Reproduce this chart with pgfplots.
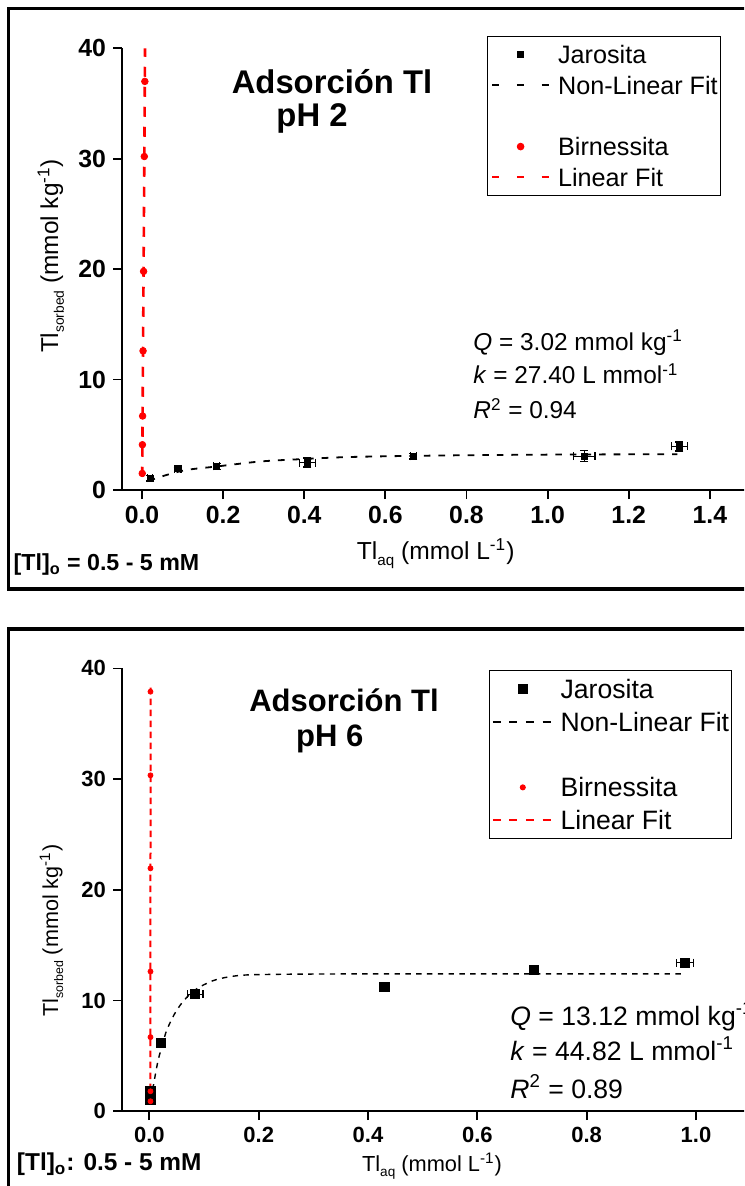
\documentclass[border=0pt]{standalone}
\usepackage{fontspec}
\setmainfont{Liberation Sans}
\usepackage{pgfplots}
\pgfplotsset{compat=1.18}

% small lowered index, as used in the axis titles
\newcommand\lowidx[2]{\raisebox{-0.45ex}{\fontsize{#1}{#1}\selectfont #2}}

% shared look of both isotherm panels
\pgfplotsset{
  panel/.style={
    scale only axis,
    axis lines=left,
    axis line style={-, line width=0.9pt},
    tick style={line width=0.9pt, black},
    tick align=outside,
    major tick length=4.5pt,
    minor tick num=0,
    clip=false,
    ymin=0, ymax=40,
    ytick={0,10,20,30,40},
    yticklabels={0,10,20,30,40},
    /pgf/number format/assume math mode=true,
    legend cell align=left,
  },
  % legend sample: single mark at #1, cell width #2
  markleg/.style 2 args={legend image code/.code={%
      \draw[##1, only marks] plot coordinates {(#1,0pt)};
      \path[draw=none, fill=none] (0pt,0pt) -- (#2,0pt);}},
  % legend sample: line of length #1, dashes #2/#3, cell width #4, width #5
  lineleg/.style n args={5}{legend image code/.code={%
      \draw[##1, line width=#5, dash pattern=on #2 off #3] (0pt,0pt) -- (#1,0pt);
      \path[draw=none, fill=none] (0pt,0pt) -- (#4,0pt);}},
}

\begin{document}
\begin{tikzpicture}
\useasboundingbox (0pt,0pt) rectangle (372pt,-593pt);
\clip (0pt,0pt) rectangle (372pt,-593pt);

% ---------------- pH 2 ----------------
\draw[line width=1.75pt] (4.25pt,-4.2pt) rectangle (390pt,-294.5pt);

\begin{axis}[panel,
  at={(61pt,-245pt)}, anchor=south west,
  width=314.2pt, height=220.85pt,
  xmin=-0.0493, xmax=1.5,
  xtick={0,0.2,0.4,0.6,0.8,1.0,1.2,1.4},
  xticklabels={0.0,0.2,0.4,0.6,0.8,1.0,1.2,1.4},
  tick label style={font=\fontsize{12.4}{14}\selectfont\bfseries},
  legend style={at={(0.5813,1.0279)}, anchor=north west, draw=black,
    line width=0.5pt, fill=white, inner xsep=1.5pt, inner ysep=1.5pt,
    row sep=0pt, font=\fontsize{12.6}{14}\selectfont,
    nodes={inner sep=0pt, text height=12.15pt, text depth=3.15pt}},
]
% Jarosita
\addplot[black, only marks, mark=square*, mark size=1.5pt,
  markleg={14.25pt}{33pt},
  error bars/.cd, x dir=both, x explicit, y dir=both, y explicit,
  error bar style={line width=0.6pt},
  error mark options={rotate=90, mark size=2pt, line width=0.6pt}]
coordinates {
  (0.020,1.07) +- (0.006,0.25)
  (0.088,1.92) +- (0.008,0.15)
  (0.184,2.13) +- (0.008,0.25)
  (0.408,2.49) +- (0.020,0.40)
  (0.669,3.05) +- (0.008,0.25)
  (1.090,3.06) +- (0.027,0.50)
  (1.325,3.94) +- (0.019,0.40)
};
\addlegendentry{Jarosita}
% non-linear fit
\addplot[black, line width=0.9pt, dash pattern=on 3.3pt off 4pt, smooth,
  lineleg={28.5pt}{3.7pt}{8.7pt}{33pt}{0.9pt}]
coordinates {
  (0.016,0.88) (0.028,0.98) (0.067,1.43) (0.112,1.83) (0.184,2.13)
  (0.291,2.58) (0.390,2.79) (0.496,2.97) (0.611,3.06) (0.750,3.13)
  (0.900,3.18) (1.100,3.22) (1.320,3.24)
};
\addlegendentry{Non-Linear Fit}
\addlegendimage{empty legend}
\addlegendentry{}
% Birnessita
\addplot[red, only marks, mark=*, mark size=1.65pt,
  markleg={14.25pt}{33pt}]
coordinates {
  (0.0006,1.5) (0.0010,4.1) (0.0015,6.7) (0.0026,12.6)
  (0.0039,19.8) (0.0057,30.2) (0.0070,37.0)
};
\addlegendentry{Birnessita}
% linear fit
\addplot[red, line width=1.3pt, dash pattern=on 5pt off 5pt,
  lineleg={28.5pt}{3.7pt}{8.7pt}{33pt}{1.3pt}]
coordinates {(0.0005,1.2) (0.0075,40)};
\addlegendentry{Linear Fit}
\end{axis}

\node[anchor=base, inner sep=0pt, font=\fontsize{16.4}{19}\selectfont\bfseries]
  at (166pt,-46.65pt) {Adsorción Tl};
\node[anchor=base, inner sep=0pt, font=\fontsize{16.4}{19}\selectfont\bfseries]
  at (156pt,-63.35pt) {pH 2};
\begin{scope}[every node/.style={anchor=base west, inner sep=0pt,
    font=\fontsize{12.2}{14}\selectfont}]
  \node at (236.5pt,-175.1pt) {\textit{Q} = 3.02 mmol kg\textsuperscript{-1}};
  \node at (236.5pt,-191.95pt) {\textit{k} = 27.40 L mmol\textsuperscript{-1}};
  \node at (236.5pt,-209.5pt) {\textit{R}\textsuperscript{2} = 0.94};
\end{scope}
\node[anchor=base, inner sep=0pt, font=\fontsize{12.3}{14}\selectfont]
  at (217.85pt,-279.75pt) {Tl\lowidx{7.6}{aq} (mmol L\textsuperscript{-1})};
\node[anchor=base, inner sep=0pt, rotate=90, font=\fontsize{12.2}{14}\selectfont]
  at (29pt,-128pt) {Tl\lowidx{6.9}{sorbed} (mmol kg\textsuperscript{-1})};
\node[anchor=base west, inner sep=0pt, font=\fontsize{11.6}{14}\selectfont\bfseries]
  at (6.65pt,-285.35pt) {[Tl]\textsubscript{o} = 0.5 - 5 mM};

% ---------------- pH 6 ----------------
\draw[line width=1.75pt] (4.25pt,-314.5pt) rectangle (390pt,-620pt);

\begin{axis}[panel,
  at={(61pt,-555.6pt)}, anchor=south west,
  width=314.3pt, height=221.4pt,
  xmin=-0.0501, xmax=1.1,
  xtick={0,0.2,0.4,0.6,0.8,1.0},
  xticklabels={0.0,0.2,0.4,0.6,0.8,1.0},
  tick label style={font=\fontsize{11}{13}\selectfont\bfseries},
  legend style={at={(0.5838,0.9957)}, anchor=north west, draw=black,
    line width=0.5pt, fill=white, inner xsep=1pt, inner ysep=1.05pt,
    row sep=0pt, font=\fontsize{13.3}{15}\selectfont,
    nodes={inner sep=0pt, text height=12.75pt, text depth=3.6pt}},
]
% Jarosita
\addplot[black, only marks, mark=square*, mark size=2.3pt,
  markleg={15pt}{33.9pt},
  error bars/.cd, x dir=both, x explicit,
  error bar style={line width=0.6pt},
  error mark options={rotate=90, mark size=2pt, line width=0.6pt}]
coordinates {
  (0.002,1.0) +- (0,0)
  (0.002,1.8) +- (0,0)
  (0.0215,6.15) +- (0,0)
  (0.084,10.57) +- (0.014,0)
  (0.430,11.24) +- (0,0)
  (0.704,12.75) +- (0,0)
  (0.980,13.43) +- (0.016,0)
};
\addlegendentry{Jarosita}
% non-linear fit
\addplot[black, line width=0.7pt, dash pattern=on 2.7pt off 2.7pt, smooth,
  lineleg={29pt}{4pt}{4.3pt}{33.9pt}{0.7pt}]
coordinates {
  (0.003,1.0) (0.008,2.5) (0.016,4.6) (0.025,6.2) (0.0316,7.3)
  (0.045,8.7) (0.059,9.75) (0.075,10.6) (0.093,11.25) (0.123,11.9)
  (0.166,12.27) (0.226,12.36) (0.350,12.4) (0.600,12.4) (0.980,12.4)
};
\addlegendentry{Non-Linear Fit}
\addlegendimage{empty legend}
\addlegendentry{}
% Birnessita
\addplot[red, only marks, mark=*, mark size=1.25pt,
  markleg={15pt}{33.9pt}]
coordinates {
  (0.002,0.9) (0.002,1.8) (0.002,6.69) (0.002,12.62)
  (0.002,21.94) (0.002,30.34) (0.002,37.9)
};
\addlegendentry{Birnessita}
% linear fit
\addplot[red, line width=1pt, dash pattern=on 3.3pt off 2.2pt,
  lineleg={29pt}{4pt}{4.3pt}{33.9pt}{1.3pt}]
coordinates {(0.0018,0.9) (0.0022,38.4)};
\addlegendentry{Linear Fit}
\end{axis}

\node[anchor=base, inner sep=0pt, font=\fontsize{15.5}{18}\selectfont\bfseries]
  at (172pt,-355.7pt) {Adsorción Tl};
\node[anchor=base, inner sep=0pt, font=\fontsize{15.5}{18}\selectfont\bfseries]
  at (164.85pt,-373.25pt) {pH 6};
\begin{scope}[every node/.style={anchor=base west, inner sep=0pt,
    font=\fontsize{13.3}{15}\selectfont}]
  \node at (255pt,-512.65pt) {\textit{Q} = 13.12 mmol kg\textsuperscript{-1}};
  \node at (255pt,-530.2pt) {\textit{k} = 44.82 L mmol\textsuperscript{-1}};
  \node at (255pt,-549.05pt) {\textit{R}\textsuperscript{2} = 0.89};
\end{scope}
\node[anchor=base, inner sep=0pt, font=\fontsize{10.9}{13}\selectfont]
  at (216pt,-585.85pt) {Tl\lowidx{6.8}{aq} (mmol L\textsuperscript{-1})};
\node[anchor=base, inner sep=0pt, rotate=90, font=\fontsize{10.8}{13}\selectfont]
  at (29pt,-465.4pt) {Tl\lowidx{6.2}{sorbed} (mmol kg\textsuperscript{-1})};
\node[anchor=base west, inner sep=0pt, font=\fontsize{12.2}{14}\selectfont\bfseries]
  at (8.3pt,-585.3pt) {[Tl]\textsubscript{o}: 0.5 - 5 mM};
\end{tikzpicture}
\end{document}
